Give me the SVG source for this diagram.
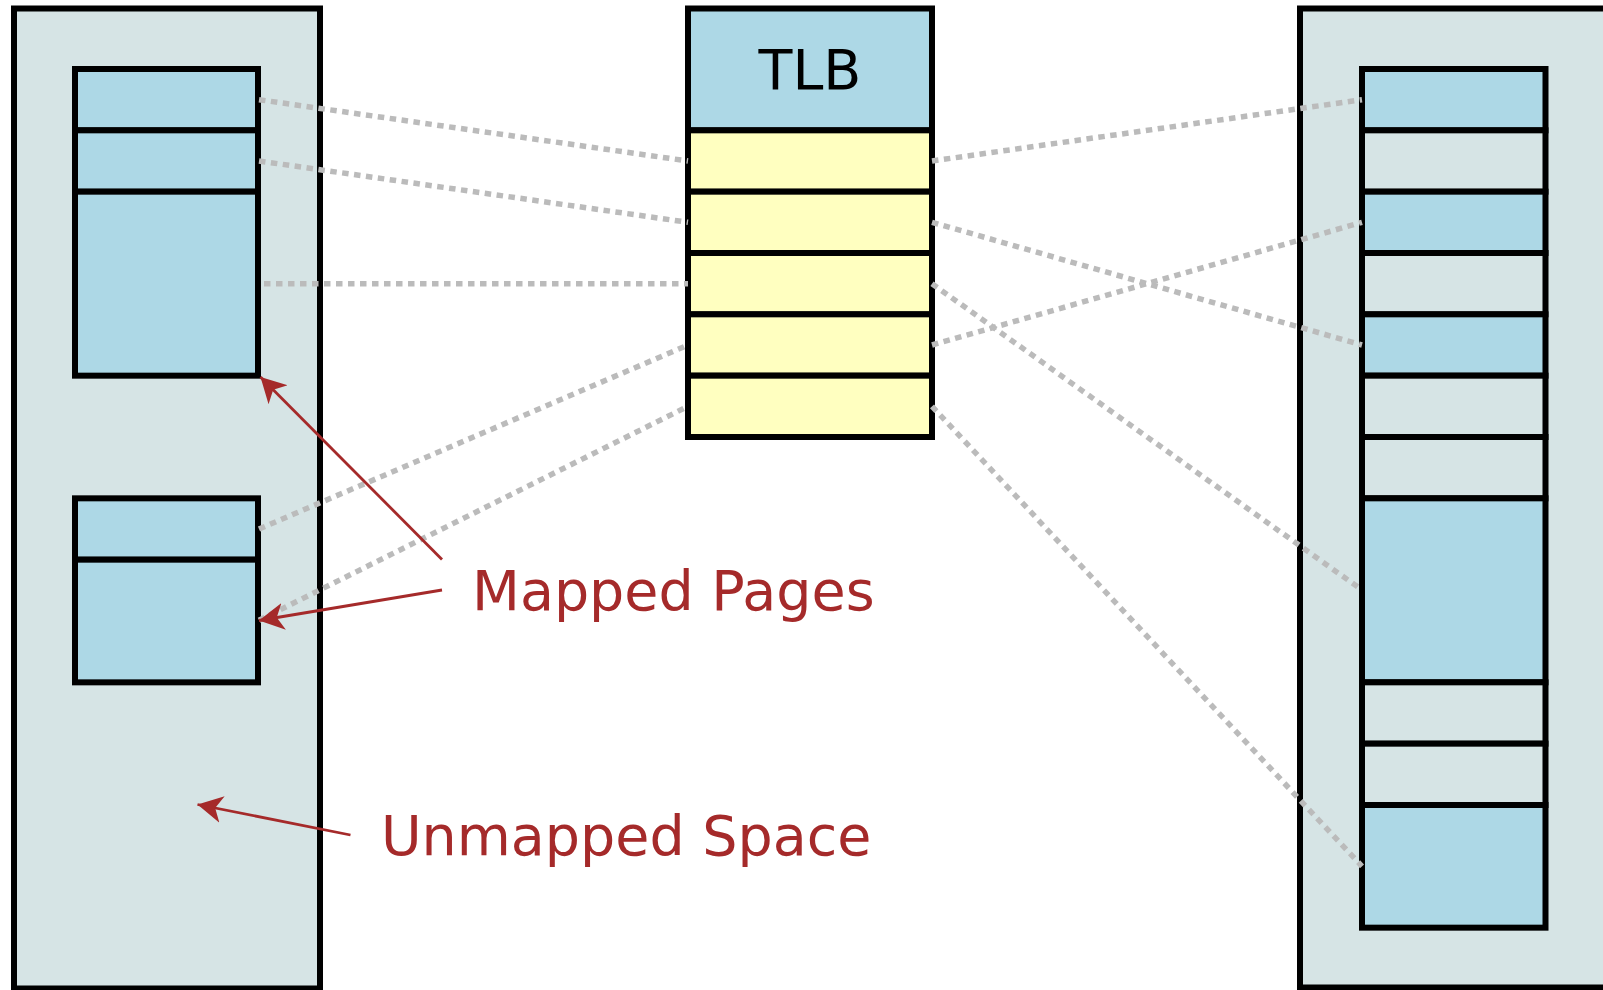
<svg xmlns="http://www.w3.org/2000/svg" width="1603" height="990" viewBox="0 0 1603 990">
<style>
.outer{fill:#d6e4e5;stroke:#000;stroke-width:6}
.pg{fill:#add8e6;stroke:#000;stroke-width:6}
.fr{fill:#d6e4e5;stroke:#000;stroke-width:6}
.tl{fill:#ffffc0;stroke:#000;stroke-width:6}
.dot{stroke:#bbbbbb;stroke-width:5.5;stroke-dasharray:6.5,5.5;fill:none}
.red{stroke:#a52a2a;stroke-width:2.8;fill:none;marker-end:url(#ah)}
.lbl{font-family:"DejaVu Sans",sans-serif;font-size:55.5px}
</style>
<defs>
<marker id="ah" viewBox="0 0 26 28" refX="25" refY="14" markerWidth="26" markerHeight="28" markerUnits="userSpaceOnUse" orient="auto">
<path d="M25,14 L0,0.5 L7,14 L0,27.5 Z" fill="#a52a2a"/>
</marker>
</defs>
<rect width="1603" height="990" fill="#fff"/>
<g id="virtual-space">
<rect class="outer" x="14" y="8.5" width="306" height="980"/>
</g>
<g id="physical-space">
<rect class="outer" x="1300" y="8.5" width="320" height="979"/>
</g>
<g id="vpages-top">
<rect class="pg" x="75" y="69" width="183" height="61.33"/>
<rect class="pg" x="75" y="130.33" width="183" height="61.33"/>
<rect class="pg" x="75" y="191.67" width="183" height="184"/>
</g>
<g id="vpages-bottom">
<rect class="pg" x="75" y="498.33" width="183" height="61.33"/>
<rect class="pg" x="75" y="559.67" width="183" height="122.67"/>
</g>
<g id="tlb">
<rect class="pg" x="688" y="8.5" width="244" height="121.83"/>
<rect class="tl" x="688" y="130.33" width="244" height="61.33"/>
<rect class="tl" x="688" y="191.67" width="244" height="61.33"/>
<rect class="tl" x="688" y="253" width="244" height="61.33"/>
<rect class="tl" x="688" y="314.33" width="244" height="61.33"/>
<rect class="tl" x="688" y="375.67" width="244" height="61.33"/>
<text class="lbl" x="810" y="89" text-anchor="middle" fill="#000">TLB</text>
</g>
<g id="frames">
<rect class="pg" x="1362" y="69" width="183.5" height="61.33"/>
<rect class="fr" x="1362" y="130.33" width="183.5" height="61.33"/>
<rect class="pg" x="1362" y="191.67" width="183.5" height="61.33"/>
<rect class="fr" x="1362" y="253" width="183.5" height="61.33"/>
<rect class="pg" x="1362" y="314.33" width="183.5" height="61.33"/>
<rect class="fr" x="1362" y="375.67" width="183.5" height="61.33"/>
<rect class="fr" x="1362" y="437" width="183.5" height="61.33"/>
<rect class="pg" x="1362" y="498.33" width="183.5" height="184"/>
<rect class="fr" x="1362" y="682.33" width="183.5" height="61.33"/>
<rect class="fr" x="1362" y="743.67" width="183.5" height="61.33"/>
<rect class="pg" x="1362" y="805" width="183.5" height="122.67"/>
</g>
<g id="connectors">
<line class="dot" x1="259" y1="99.7" x2="688" y2="161"/>
<line class="dot" x1="259" y1="161" x2="688" y2="222.3"/>
<line class="dot" x1="264" y1="283.7" x2="688" y2="283.7"/>
<line class="dot" x1="259" y1="529" x2="688" y2="345"/>
<line class="dot" x1="259" y1="620.3" x2="688" y2="406.3"/>
<line class="dot" x1="932" y1="161" x2="1362" y2="99.7"/>
<line class="dot" x1="932" y1="222.3" x2="1362" y2="345"/>
<line class="dot" x1="932" y1="283.7" x2="1362" y2="590"/>
<line class="dot" x1="932" y1="345" x2="1362" y2="222.3"/>
<line class="dot" x1="932" y1="406.3" x2="1362" y2="866.3"/>
</g>
<g id="annotations">
<line class="red" x1="442" y1="559.5" x2="260.5" y2="377"/>
<line class="red" x1="442" y1="590" x2="259" y2="620.5"/>
<line class="red" x1="350.5" y1="835" x2="197.5" y2="804.5"/>
<text class="lbl" x="472" y="610" fill="#a52a2a">Mapped Pages</text>
<text class="lbl" x="381" y="855" fill="#a52a2a">Unmapped Space</text>
</g>
</svg>
